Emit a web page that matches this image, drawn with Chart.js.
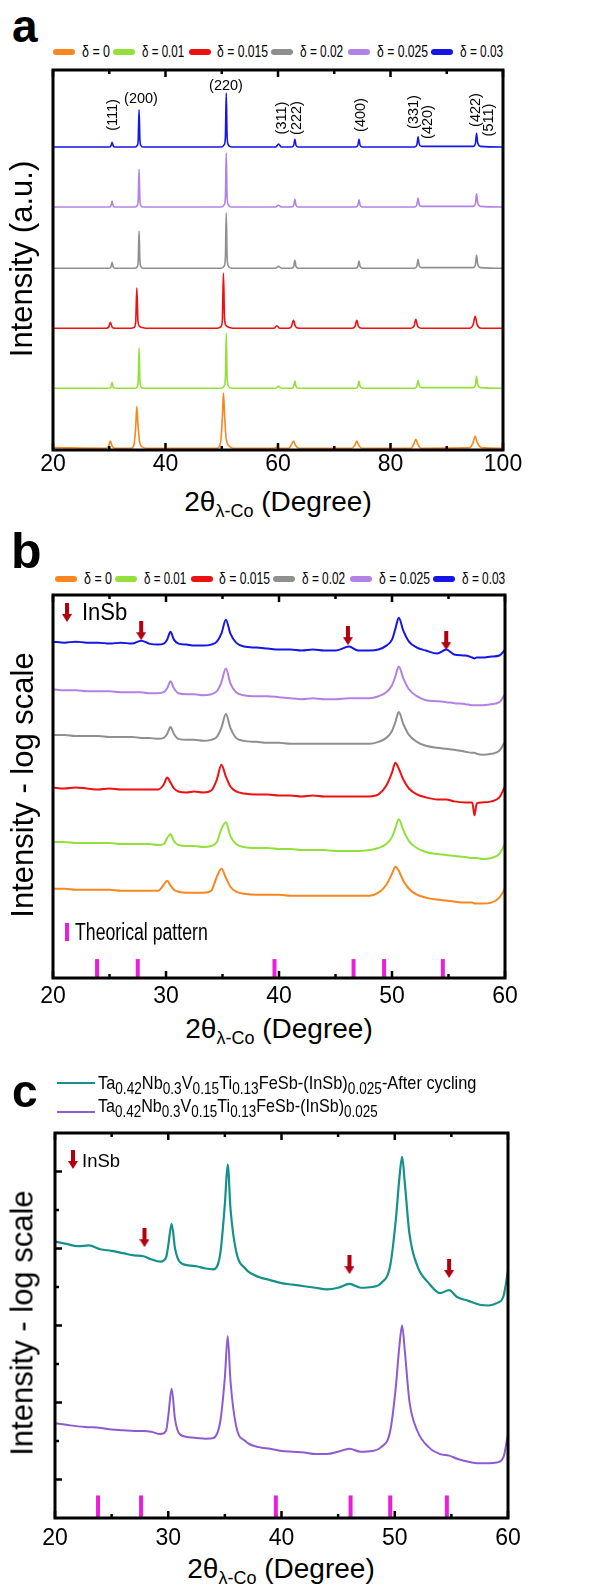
<!DOCTYPE html>
<html>
<head>
<meta charset="utf-8">
<script src="https://cdn.jsdelivr.net/npm/chart.js@4.4.1/dist/chart.umd.min.js"></script>
<style>
  body { margin: 0; background: #fff; font-family: "Liberation Sans", Arial, sans-serif; color: #000; }
  #page { position: relative; width: 610px; height: 1593px; overflow: hidden; }
  .wrap { position: absolute; left: 0; width: 610px; }
  .t { position: absolute; white-space: nowrap; line-height: 1; }
  .cc { transform: translate(-50%, -50%); }
  .rc { transform: translate(-50%, -50%) rotate(-90deg); }
  .lc { transform: translateY(-50%); transform-origin: left center; }
  .letter { font-weight: bold; }
  .xtitle { font-size: 28px; transform: translateX(-50%); }
  .xtitle sub { font-size: 18px; vertical-align: -6px; }
  .ytitle { font-size: 31px; }
  .peak { font-size: 14.5px; }
  .legend { position: absolute; width: 460px; height: 20px; }
  .legend .bar { position: absolute; top: 7px; width: 22px; height: 6px; border-radius: 3px; }
  .legend .lbl { position: absolute; top: 10px; font-size: 16px; }
</style>
</head>
<body>
<div id="page">
  <!-- panel a -->
  <div class="t letter" style="left:12px; top:3px; font-size:46px;">a</div>
  <div class="legend" id="legA" style="left:53px; top:42px;"></div>
  <div class="wrap" style="top:60px; height:420px;"><canvas id="chartA"></canvas></div>
  <div class="t rc ytitle" style="left:21px; top:259px;">Intensity (a.u.)</div>
  <div class="t xtitle" style="left:278px; top:488px;">2θ<sub>λ-Co</sub> (Degree)</div>
  <div class="t cc peak" style="left:141px; top:98px;">(200)</div>
  <div class="t cc peak" style="left:226px; top:85px;">(220)</div>
  <div class="t rc peak" style="left:112px; top:115px;">(111)</div>
  <div class="t rc peak" style="left:281px; top:118px;">(311)</div>
  <div class="t rc peak" style="left:296px; top:118px;">(222)</div>
  <div class="t rc peak" style="left:360px; top:115px;">(400)</div>
  <div class="t rc peak" style="left:413px; top:112px;">(331)</div>
  <div class="t rc peak" style="left:427px; top:122px;">(420)</div>
  <div class="t rc peak" style="left:475px; top:110px;">(422)</div>
  <div class="t rc peak" style="left:488px; top:120px;">(511)</div>

  <!-- panel b -->
  <div class="t letter" style="left:11px; top:526px; font-size:50px;">b</div>
  <div class="legend" id="legB" style="left:55px; top:569px;"></div>
  <div class="wrap" style="top:582px; height:426px;"><canvas id="chartB"></canvas></div>
  <div class="t rc ytitle" style="left:22px; top:785px;">Intensity - log scale</div>
  <div class="t xtitle" style="left:279px; top:1015px;">2θ<sub>λ-Co</sub> (Degree)</div>
  <img class="t arrowIcon" style="left:62px; top:603px;">
  <div class="t lc fit" data-w="45" style="left:82px; top:612px; font-size:23px;">InSb</div>
  <div class="t" style="left:65px; top:923px; width:4px; height:18px; background:#E91FD9;"></div>
  <div class="t lc fit" data-w="133" style="left:75px; top:932px; font-size:23px;">Theorical pattern</div>

  <!-- panel c -->
  <div class="t letter" style="left:12px; top:1068px; font-size:46px;">c</div>
  <div class="t" style="left:57px; top:1082px; width:38px; height:2px; background:#15918A;"></div>
  <div class="t lc fit" data-w="379" style="left:98px; top:1085px; font-size:19px;">Ta<sub>0.42</sub>Nb<sub>0.3</sub>V<sub>0.15</sub>Ti<sub>0.13</sub>FeSb-(InSb)<sub>0.025</sub>-After cycling</div>
  <div class="t" style="left:57px; top:1111px; width:38px; height:2px; background:#8C5BD1;"></div>
  <div class="t lc fit" data-w="280" style="left:98px; top:1108px; font-size:19px;">Ta<sub>0.42</sub>Nb<sub>0.3</sub>V<sub>0.15</sub>Ti<sub>0.13</sub>FeSb-(InSb)<sub>0.025</sub></div>
  <div class="wrap" style="top:1118px; height:430px;"><canvas id="chartC"></canvas></div>
  <div class="t rc ytitle" style="left:22px; top:1323px;">Intensity - log scale</div>
  <div class="t xtitle" style="left:281px; top:1555px;">2θ<sub>λ-Co</sub> (Degree)</div>
  <img class="t arrowIcon" style="left:68px; top:1150px;">
  <div class="t lc fit" data-w="38" style="left:82px; top:1160px; font-size:19px;">InSb</div>
</div>

<script>
// ---- series names / colours ----
const seriesLabels = ['δ = 0', 'δ = 0.01', 'δ = 0.015', 'δ = 0.02', 'δ = 0.025', 'δ = 0.03'];
const seriesColors = ['#F7871E', '#93E03B', '#EE1111', '#8F8F8F', '#B182E3', '#1515E6'];
const arrowColor = '#B3000F';
const theoryColor = '#E91FD9';

// ---- panel a: XRD, linear intensity (heights above each curve's own baseline) ----
const gridA1 = [20, 30.0, 30.3, 30.5, 30.7, 31.0, 34.6, 35.0, 35.15, 35.3, 35.45, 35.6, 36.0,
  49.9, 50.45, 50.65, 50.8, 50.95, 51.15, 51.7, 59.6, 60.1, 60.6, 62.4, 62.8, 63.0, 63.2, 63.6,
  73.8, 74.2, 74.4, 74.6, 75.0, 84.3, 84.7, 84.9, 85.1, 85.5, 94.7, 95.1, 95.3, 95.5, 96.0, 100];
const gridA2 = [20, 29.5, 29.9, 30.2, 30.5, 31.0, 33.9, 34.4, 34.7, 34.9, 35.1, 35.4, 35.9, 36.5,
  49.2, 49.8, 50.1, 50.3, 50.5, 50.8, 51.4, 52.0, 59.3, 59.8, 60.3, 61.9, 62.4, 62.75, 63.1, 63.7,
  73.2, 73.7, 74.0, 74.3, 74.9, 83.6, 84.2, 84.5, 84.8, 85.4, 94.1, 94.7, 95.05, 95.4, 96.1, 100];

const aDelta0 = [0.01, 0, 0.04, 0.12, 0.04, 0, 0, 0.06, 0.35, 0.7, 0.4, 0.1, 0.02, 0,
  0, 0.1, 0.5, 0.92, 0.55, 0.15, 0.03, 0, 0, 0.02, 0, 0, 0.06, 0.12, 0.05, 0,
  0, 0.06, 0.12, 0.06, 0, 0, 0.08, 0.15, 0.08, 0, 0.01, 0.1, 0.2, 0.1, 0.01, 0];
const aDelta001 = [0, 0, 0.02, 0.1, 0.02, 0, 0, 0.03, 0.13, 0.67, 0.13, 0.03, 0,
  0, 0.04, 0.19, 0.92, 0.19, 0.04, 0, 0, 0.03, 0, 0, 0.03, 0.12, 0.03, 0,
  0, 0.03, 0.12, 0.03, 0, 0, 0.04, 0.13, 0.04, 0.01, 0.01, 0.05, 0.2, 0.06, 0.01, 0];
const aDelta0015 = [0, 0, 0.02, 0.1, 0.02, 0, 0, 0.01, 0.1, 0.67, 0.12, 0.03, 0.01, 0,
  0, 0.02, 0.12, 0.92, 0.15, 0.04, 0.01, 0, 0, 0.04, 0, 0, 0.03, 0.13, 0.03, 0,
  0, 0.03, 0.13, 0.03, 0, 0, 0.04, 0.15, 0.04, 0, 0, 0.06, 0.2, 0.06, 0, 0];
const aDelta002 = [0, 0, 0.02, 0.1, 0.02, 0, 0, 0.03, 0.12, 0.62, 0.12, 0.03, 0,
  0, 0.04, 0.19, 0.92, 0.19, 0.04, 0, 0, 0.03, 0, 0, 0.03, 0.13, 0.03, 0,
  0, 0.03, 0.12, 0.03, 0, 0, 0.04, 0.15, 0.04, 0.01, 0.01, 0.06, 0.22, 0.07, 0.01, 0];
const aDelta0025 = [0, 0, 0.02, 0.1, 0.02, 0, 0, 0.03, 0.12, 0.63, 0.12, 0.03, 0,
  0, 0.04, 0.18, 0.9, 0.18, 0.04, 0, 0, 0.03, 0, 0, 0.03, 0.13, 0.03, 0,
  0, 0.03, 0.12, 0.03, 0, 0, 0.04, 0.15, 0.04, 0.01, 0.01, 0.06, 0.22, 0.07, 0.01, 0];
const aDelta003 = [0, 0, 0.02, 0.08, 0.02, 0, 0, 0.03, 0.12, 0.62, 0.12, 0.03, 0,
  0, 0.04, 0.18, 0.9, 0.18, 0.04, 0, 0, 0.05, 0, 0, 0.03, 0.13, 0.03, 0,
  0, 0.03, 0.13, 0.03, 0, 0, 0.04, 0.17, 0.05, 0.01, 0.01, 0.06, 0.23, 0.07, 0.01, 0];
const offsetsA = [0.03, 1.03, 2.03, 3.03, 4.05, 5.05];

// ---- panel b: log scale (arbitrary units) ----
const gridB = [20, 21, 22, 23, 24, 25, 26, 27, 27.8, 28.5, 29.3, 29.8, 30.1, 30.4, 30.7, 31.1,
  31.8, 32.5, 33.3, 34.0, 34.5, 34.9, 35.3, 35.7, 36.2, 36.9, 38, 39, 40, 41, 42, 43, 44, 45,
  46.2, 47, 48, 48.8, 49.5, 50.0, 50.3, 50.6, 51.0, 51.5, 52.2, 53, 54, 54.8, 55.5, 56.5,
  57.1, 57.3, 57.5, 58, 58.8, 59.5, 60];
const bDelta0 = [90, 90, 89, 89, 89, 89, 88, 88, 88, 88, 88, 94, 98, 93, 89, 87, 86, 86, 86, 88,
  102, 110, 101, 92, 87, 85, 84, 84, 84, 83, 83, 83, 83, 83, 83, 83, 83, 86, 94, 105, 112, 108,
  98, 90, 84, 81, 79, 78, 77, 76, 76, 75, 75, 75, 76, 81, 90];
const bDelta001 = [137, 137, 136, 136, 136, 136, 135, 135, 135, 135, 134, 135, 141, 145, 138, 134,
  133, 133, 132, 133, 137, 150, 157, 143, 135, 132, 131, 131, 130, 130, 129, 129, 129, 128,
  128, 128, 129, 131, 135, 142, 151, 160, 149, 138, 131, 127, 125, 124, 123, 122, 121, 121, 121, 120, 121, 125, 135];
const bDelta0015 = [192, 191, 192, 191, 190, 191, 190, 190, 190, 190, 190, 195, 202, 197, 191, 188,
  187, 188, 187, 189, 200, 215, 203, 193, 188, 186, 185, 185, 184, 184, 183, 184, 183, 183,
  183, 183, 183, 185, 194, 207, 217, 211, 200, 191, 185, 182, 180, 180, 178, 177, 177, 164, 176, 177, 178, 182, 193];
const bDelta002 = [245, 245, 244, 244, 244, 243, 243, 243, 242, 242, 241, 242, 246, 253, 246, 241,
  240, 240, 239, 240, 243, 252, 266, 252, 242, 239, 238, 237, 237, 236, 236, 236, 236, 236,
  236, 236, 236, 238, 242, 249, 258, 268, 256, 245, 238, 234, 232, 231, 230, 228, 227, 227, 226, 225, 226, 229, 238];
const bDelta0025 = [291, 290, 290, 289, 289, 289, 288, 288, 288, 287, 287, 288, 292, 299, 292, 287,
  286, 286, 285, 286, 289, 298, 312, 297, 288, 285, 284, 284, 283, 282, 281, 282, 281, 281,
  282, 282, 282, 284, 288, 295, 304, 314, 302, 291, 284, 280, 279, 278, 277, 276, 275, 275, 275, 275, 276, 278, 286];
const bDelta003 = [339, 338, 339, 338, 338, 337, 338, 337, 340, 337, 336, 337, 341, 349, 341, 337,
  336, 335, 335, 336, 339, 347, 361, 347, 338, 334, 333, 332, 331, 331, 330, 331, 330, 330,
  334, 330, 330, 331, 335, 341, 352, 363, 350, 339, 333, 330, 327, 331, 326, 325, 323, 322, 323, 323, 324, 325, 331];
const theoryB = [23.9, 27.5, 39.6, 46.6, 49.3, 54.5];
const arrowsBx = [27.8, 46.1, 54.8];
const arrowsBy = [350, 345, 340];

// ---- panel c: log scale ----
const gridC = [20, 21, 22, 23, 24, 25, 26, 27, 27.8, 28.5, 29.3, 29.8, 30.0, 30.3, 30.6, 31.0,
  31.8, 32.5, 33.3, 34.0, 34.6, 35.0, 35.25, 35.5, 36.0, 36.8, 38, 39, 40, 41, 42, 43, 44, 45,
  46.0, 47, 48, 48.8, 49.6, 50.1, 50.4, 50.65, 50.9, 51.3, 52.0, 53, 54, 54.8, 55.5, 56.5,
  57.5, 58.3, 59.0, 59.6, 60];
const cAfterCycling = [3.09, 3.06, 3.03, 3.04, 2.99, 2.97, 2.94, 2.91, 2.90, 2.86, 2.83, 2.88,
  3.04, 3.32, 3.00, 2.83, 2.78, 2.77, 2.74, 2.73, 2.94, 3.58, 4.09, 3.51, 2.96, 2.74,
  2.63, 2.59, 2.55, 2.53, 2.51, 2.49, 2.47, 2.49, 2.54, 2.49, 2.50, 2.55, 2.78, 3.38, 3.90, 4.19,
  3.83, 3.19, 2.77, 2.55, 2.42, 2.46, 2.37, 2.32, 2.27, 2.26, 2.29, 2.38, 2.71];
const cAsPrepared = [0.73, 0.71, 0.69, 0.68, 0.67, 0.65, 0.64, 0.63, 0.63, 0.62, 0.59, 0.63,
  0.82, 1.18, 0.78, 0.59, 0.55, 0.54, 0.53, 0.54, 0.76, 1.33, 1.86, 1.27, 0.69, 0.50,
  0.42, 0.40, 0.37, 0.36, 0.35, 0.33, 0.33, 0.36, 0.40, 0.36, 0.37, 0.42, 0.63, 1.21, 1.72, 2.00,
  1.65, 1.01, 0.63, 0.42, 0.33, 0.31, 0.27, 0.23, 0.21, 0.21, 0.22, 0.29, 0.59];
const theoryC = [23.8, 27.6, 39.5, 46.1, 49.6, 54.6];
const arrowsCx = [27.9, 46.0, 54.8];
const arrowsCy = [3.14, 2.79, 2.74];

// ---- tick values ----
const xMajorA = [20, 40, 60, 80, 100], xMinorA = [30, 50, 70, 90];
const xMajorBC = [20, 30, 40, 50, 60], xMinorBC = [25, 35, 45, 55];
const yMajorC = [0, 1, 2, 3, 4], yMinorC = [0.5, 1.5, 2.5, 3.5];

// legend item placement (px from the legend's left edge)
const legBarLeft = [0, 60, 136, 218, 295, 378];
const legTextLeft = [29, 89, 164, 247, 324, 407];
const legTextRight = [57, 131, 215, 290, 375, 450];

// arrow marker used as point style
const arrowImg = (() => {
  const c = document.createElement('canvas');
  c.width = 10; c.height = 19;
  const g = c.getContext('2d');
  g.fillStyle = arrowColor;
  g.fillRect(3, 0, 4, 12);
  g.beginPath(); g.moveTo(0, 11); g.lineTo(10, 11); g.lineTo(5, 19); g.closePath(); g.fill();
  return c;
})();
document.querySelectorAll('.arrowIcon').forEach(img => { img.src = arrowImg.toDataURL(); });

// legends for a and b
const buildLegend = (id) => {
  const el = document.getElementById(id);
  seriesLabels.forEach((lbl, i) => {
    const bar = document.createElement('div');
    bar.className = 'bar';
    bar.style.left = legBarLeft[i] + 'px';
    bar.style.background = seriesColors[i];
    const txt = document.createElement('div');
    txt.className = 'lbl t lc fit';
    txt.style.left = legTextLeft[i] + 'px';
    txt.dataset.w = legTextRight[i] - legTextLeft[i];
    txt.textContent = lbl;
    el.appendChild(bar); el.appendChild(txt);
  });
};
buildLegend('legA');
buildLegend('legB');

// box + inward ticks
const framePlugin = {
  id: 'frame',
  afterDraw(chart, args, opts) {
    const { ctx, chartArea: a, scales: { x, y } } = chart;
    ctx.save();
    ctx.strokeStyle = '#000';
    ctx.lineWidth = 2.5;
    const xt = (vals, len) => vals.forEach(v => {
      const px = x.getPixelForValue(v);
      ctx.beginPath();
      ctx.moveTo(px, a.bottom); ctx.lineTo(px, a.bottom - len);
      ctx.moveTo(px, a.top); ctx.lineTo(px, a.top + len);
      ctx.stroke();
    });
    const yt = (vals, len) => vals.forEach(v => {
      const py = y.getPixelForValue(v);
      ctx.beginPath();
      ctx.moveTo(a.left, py); ctx.lineTo(a.left + len, py);
      ctx.stroke();
    });
    xt(opts.xMajor || [], 7);
    xt(opts.xMinor || [], 4);
    yt(opts.yMajor || [], 7);
    yt(opts.yMinor || [], 4);
    ctx.lineWidth = 3;
    ctx.strokeRect(a.left, a.top, a.width, a.height);
    ctx.restore();
  }
};

const toXY = (xs, ys, off) => xs.map((x, i) => ({ x: x, y: ys[i] + (off || 0) }));

const lineSet = (xs, ys, color, off, width) => ({
  data: toXY(xs, ys, off),
  borderColor: color,
  borderWidth: width || 1.5,
  pointRadius: 0,
  cubicInterpolationMode: 'monotone',
  fill: false
});

const theorySet = (xs, yc, r) => ({
  data: xs.map(x => ({ x: x, y: yc })),
  showLine: false,
  pointStyle: 'line',
  pointRotation: 90,
  pointRadius: r,
  pointBorderWidth: 4,
  pointBorderColor: theoryColor,
  borderColor: theoryColor
});

const arrowSet = (xs, ys) => ({
  data: xs.map((x, i) => ({ x: x, y: ys[i] })),
  showLine: false,
  pointStyle: arrowImg,
  pointRadius: 5
});

const makeChart = (id, datasets, cfg) => new Chart(document.getElementById(id), {
  type: 'line',
  data: { datasets: datasets },
  options: {
    responsive: true,
    maintainAspectRatio: false,
    animation: false,
    layout: { padding: cfg.pad },
    plugins: {
      legend: { display: false },
      tooltip: { enabled: false },
      frame: cfg.ticks
    },
    scales: {
      x: {
        type: 'linear', min: cfg.xMin, max: cfg.xMax,
        grid: { display: false, drawTicks: false },
        border: { display: false },
        ticks: {
          stepSize: cfg.step, color: '#000', padding: cfg.labelPad,
          maxRotation: 0, autoSkip: false,
          font: { family: 'Liberation Sans', size: 23 }
        },
        afterFit: s => { s.height = 30; }
      },
      y: { type: 'linear', display: false, min: cfg.yMin, max: cfg.yMax }
    }
  },
  plugins: [framePlugin]
});

// panel a
const aSeries = [aDelta0, aDelta001, aDelta0015, aDelta002, aDelta0025, aDelta003];
const aGrids = [gridA2, gridA1, gridA2, gridA1, gridA1, gridA1];
makeChart('chartA',
  aSeries.map((ys, i) => lineSet(aGrids[i], ys, seriesColors[i], offsetsA[i], 1.6)),
  { pad: { left: 53, right: 107, top: 10, bottom: 0 }, xMin: 20, xMax: 100, step: 20, labelPad: 1,
    yMin: 0, yMax: 6.333, ticks: { xMajor: xMajorA, xMinor: xMinorA } });

// panel b
const bSeries = [bDelta0, bDelta001, bDelta0015, bDelta002, bDelta0025, bDelta003];
makeChart('chartB',
  bSeries.map((ys, i) => lineSet(gridB, ys, seriesColors[i], 0, 2))
    .concat([theorySet(theoryB, 10, 9), arrowSet(arrowsBx, arrowsBy)]),
  { pad: { left: 53, right: 105, top: 10, bottom: 0 }, xMin: 20, xMax: 60, step: 10, labelPad: 5,
    yMin: 0, yMax: 386, ticks: { xMajor: xMajorBC, xMinor: xMinorBC } });

// panel c
makeChart('chartC',
  [lineSet(gridC, cAfterCycling, '#15918A', 0, 2.2), lineSet(gridC, cAsPrepared, '#8C5BD1', 0, 2),
   theorySet(theoryC, -0.35, 11), arrowSet(arrowsCx, arrowsCy)],
  { pad: { left: 55, right: 102, top: 10, bottom: 0 }, xMin: 20, xMax: 60, step: 10, labelPad: 7,
    yMin: -0.5, yMax: 4.5, ticks: { xMajor: xMajorBC, xMinor: xMinorBC, yMajor: yMajorC, yMinor: yMinorC } });

// squeeze condensed labels to the widths they take in the figure
const fitAll = () => {
  document.querySelectorAll('.fit').forEach(el => {
    const w = parseFloat(el.dataset.w);
    if (!w) return;
    const nat = el.scrollWidth;
    el.style.transform = 'translateY(-50%) scaleX(' + (w / nat).toFixed(3) + ')';
  });
};
if (document.fonts && document.fonts.ready) document.fonts.ready.then(fitAll); else fitAll();
</script>
</body>
</html>
